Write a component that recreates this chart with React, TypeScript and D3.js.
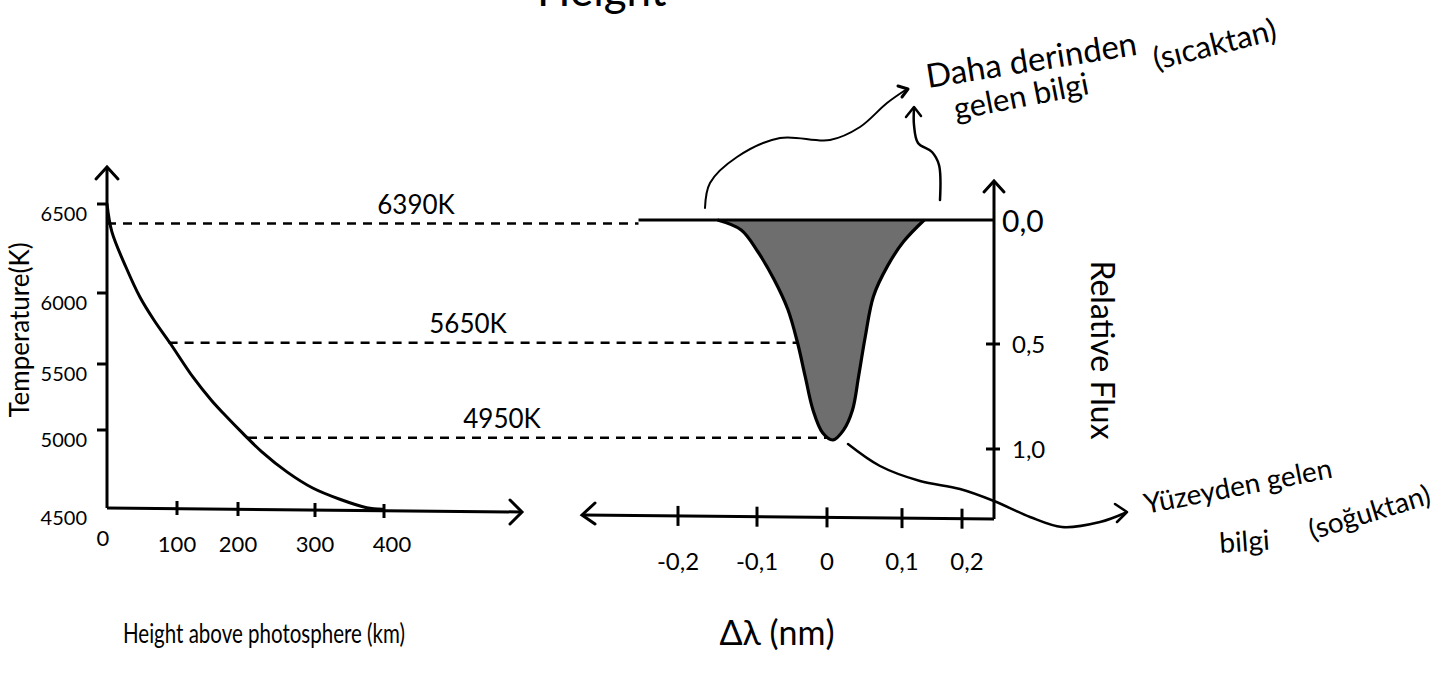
import React from "react";
import * as d3 from "d3";

// Temperature profile of the photosphere (left panel)
const heightKm = [0, 7, 27, 47, 67, 90, 126, 157, 179, 206, 231, 264, 297, 336, 375, 398];
const temperatureK = [6500, 6343, 6146, 5972, 5810, 5648, 5402, 5222, 5112, 4980, 4860, 4730, 4628, 4556, 4502, 4492];

const tempTicks = [4500, 5000, 5500, 6000, 6500];
const tempTickLabels = ["4500", "5000", "5500", "6000", "6500"];
const heightTicks = [0, 100, 200, 300, 400];
const heightTickLabels = ["0", "100", "200", "300", "400"];

// Absorption line profile (right panel)
const dlTicks = [-0.2, -0.1, 0, 0.1, 0.2];
const dlTickLabels = ["-0,2", "-0,1", "0", "0,1", "0,2"];
const fluxTicks = [0, 0.5, 1];
const fluxTickLabels = ["0,0", "0,5", "1,0"];
const profileDl = [-0.15, -0.12, -0.099, -0.076, -0.056, -0.042, -0.031, -0.02, -0.006, 0.008, 0.022, 0.034, 0.042, 0.051, 0.062, 0.081, 0.103, 0.137];
const profileFlux = [0, 0.04, 0.127, 0.238, 0.36, 0.496, 0.657, 0.814, 0.924, 0.957, 0.91, 0.814, 0.657, 0.471, 0.307, 0.184, 0.086, 0];
const continuumDl = [-0.25, 0.255];

// Temperature levels linking the two panels
const levelTemps = [6390, 5650, 4950];
const levelLabels = ["6390K", "5650K", "4950K"];
const levelStartKm = [0, 88, 213];
const levelEndDl = [-0.25, -0.042, 0.008];

const FONT = "Lato, 'Open Sans', sans-serif";

export default function App() {
  const W = 1451;
  const H = 677;

  // hand-spaced tick positions, so the scales are piecewise linear
  const xH = d3.scaleLinear().domain(heightTicks).range([107, 177, 238, 315, 384]);
  const yT = d3.scaleLinear().domain(tempTicks).range([508, 430, 364, 293, 204]);
  const xD = d3.scaleLinear().domain(dlTicks).range([678, 757, 827, 902, 962]);
  const yF = d3.scaleLinear().domain(fluxTicks).range([220, 344, 449]);

  const leftAxisX = xH(0);
  const leftAxisY = yT(4500);
  const rightAxisX = 994;
  const rightAxisBottom = 519;

  const tempLine = d3
    .line<number>()
    .x((_, i) => xH(heightKm[i]))
    .y((t) => yT(t))
    .curve(d3.curveCatmullRom.alpha(0.5))(temperatureK) as string;

  const profileIdx = profileDl.map((_, i) => i);
  const profileArea = d3
    .area<number>()
    .x((i) => xD(profileDl[i]))
    .y0(yF(0))
    .y1((i) => yF(profileFlux[i]))
    .curve(d3.curveCatmullRom.alpha(0.5))(profileIdx) as string;
  const profileLine = d3
    .line<number>()
    .x((i) => xD(profileDl[i]))
    .y((i) => yF(profileFlux[i]))
    .curve(d3.curveCatmullRom.alpha(0.5))(profileIdx) as string;

  const smooth = (pts: [number, number][]) =>
    d3.line().curve(d3.curveCatmullRom.alpha(0.5))(pts) as string;

  const deepArrow = smooth([
    [705, 208], [710, 183], [737, 157], [780, 138], [830, 140], [860, 127], [887, 103], [907, 89],
  ]);
  const deepArrow2 = smooth([
    [940, 200], [939, 165], [932, 152], [918, 143], [914, 125], [914, 108],
  ]);
  const surfaceArrow = smooth([
    [848, 444], [880, 466], [920, 481], [960, 489], [994, 501], [1030, 517], [1062, 527], [1100, 522], [1125, 513],
  ]);

  const stroke = "#000";

  return (
    <svg
      width={W}
      height={H}
      viewBox={`0 0 ${W} ${H}`}
      style={{ position: "absolute", left: 0, top: 0, background: "#fff" }}
      fontFamily={FONT}
    >
      <rect x={0} y={0} width={W} height={H} fill="#fff" />

      {/* title, running off the top edge */}
      <text x={537} y={6} fontSize={44} fill={stroke}>Height</text>

      {/* ---------- left panel: temperature vs height ---------- */}
      <line x1={leftAxisX} y1={leftAxisY} x2={leftAxisX} y2={167} stroke={stroke} strokeWidth={3} />
      <path d={`M${leftAxisX - 11},${179} L${leftAxisX},${167} L${leftAxisX + 11},${179}`} fill="none" stroke={stroke} strokeWidth={3} strokeLinecap="round" />
      <line x1={leftAxisX} y1={leftAxisY} x2={521} y2={leftAxisY + 4} stroke={stroke} strokeWidth={3} />
      <path d={`M${510},${leftAxisY - 8} L${522},${leftAxisY + 4} L${510},${leftAxisY + 16}`} fill="none" stroke={stroke} strokeWidth={3} strokeLinecap="round" />

      {tempTicks.map((t, i) => (
        <g key={`yt${i}`}>
          {i > 0 && <line x1={leftAxisX - 10} x2={leftAxisX} y1={yT(t)} y2={yT(t)} stroke={stroke} strokeWidth={3} />}
          <text x={87} y={yT(t) + 17} fontSize={20} textAnchor="end" fill={stroke}>{tempTickLabels[i]}</text>
        </g>
      ))}
      {heightTicks.map((h, i) => (
        <g key={`xt${i}`}>
          {i > 0 && <line x1={xH(h)} x2={xH(h)} y1={leftAxisY - 8 + i} y2={leftAxisY + 6 + i} stroke={stroke} strokeWidth={3} />}
          <text x={i === 0 ? xH(h) - 4 : xH(h) + (i === 4 ? 8 : 0)} y={i === 0 ? 546 : 552} fontSize={22} textAnchor="middle" fill={stroke}>{heightTickLabels[i]}</text>
        </g>
      ))}

      <text transform={`translate(29,${330}) rotate(-90)`} fontSize={26} textAnchor="middle" fill={stroke}>Temperature(K)</text>
      <text x={264} y={643} fontSize={27} textAnchor="middle" textLength={282} lengthAdjust="spacingAndGlyphs" fill={stroke}>Height above photosphere (km)</text>

      <path d={tempLine} fill="none" stroke={stroke} strokeWidth={3} strokeLinejoin="round" strokeLinecap="round" />

      {/* ---------- temperature levels carried across ---------- */}
      {levelTemps.map((t, i) => (
        <g key={`lv${i}`}>
          <line x1={xH(levelStartKm[i])} x2={xD(levelEndDl[i])} y1={yT(t)} y2={yT(t)} stroke={stroke} strokeWidth={2.5} strokeDasharray="9 7" />
          <text x={[416, 468, 502][i]} y={yT(t) - 10} fontSize={26} textAnchor="middle" fill={stroke}>{levelLabels[i]}</text>
        </g>
      ))}

      {/* ---------- right panel: line profile ---------- */}
      <path d={profileArea} fill="#6e6e6e" stroke="none" />
      <line x1={xD(continuumDl[0])} x2={xD(continuumDl[1])} y1={yF(0)} y2={yF(0)} stroke={stroke} strokeWidth={3} />
      <path d={profileLine} fill="none" stroke={stroke} strokeWidth={3.2} strokeLinejoin="round" />

      <line x1={rightAxisX} y1={rightAxisBottom} x2={rightAxisX} y2={181} stroke={stroke} strokeWidth={3} />
      <path d={`M${rightAxisX - 10},${192} L${rightAxisX},${181} L${rightAxisX + 10},${192}`} fill="none" stroke={stroke} strokeWidth={3} strokeLinecap="round" />
      <line x1={583} y1={rightAxisBottom - 4} x2={rightAxisX} y2={rightAxisBottom} stroke={stroke} strokeWidth={3} />
      <path d={`M${595},${rightAxisBottom - 16} L${582},${rightAxisBottom - 4} L${595},${rightAxisBottom + 5}`} fill="none" stroke={stroke} strokeWidth={3} strokeLinecap="round" />

      {fluxTicks.map((f, i) => (
        <g key={`ft${i}`}>
          {i > 0 && <line x1={rightAxisX - 8} x2={rightAxisX + 6} y1={yF(f)} y2={yF(f)} stroke={stroke} strokeWidth={3} />}
          <text x={i === 0 ? 1002 : 1012} y={yF(f) + (i === 0 ? 12 : 9)} fontSize={i === 0 ? 30 : 24} fill={stroke}>{fluxTickLabels[i]}</text>
        </g>
      ))}
      <text transform={`translate(1091,${350}) rotate(90)`} fontSize={32} textAnchor="middle" fill={stroke}>Relative Flux</text>

      {dlTicks.map((d, i) => {
        const ty = rightAxisBottom - 4 + ((xD(d) - 583) / (rightAxisX - 583)) * 4;
        return (
          <g key={`dt${i}`}>
            <line x1={xD(d)} x2={xD(d)} y1={ty - 10} y2={ty + 10} stroke={stroke} strokeWidth={3} />
            <text x={xD(d) + (i === 4 ? 5 : 0)} y={570} fontSize={24} textAnchor="middle" fill={stroke}>{dlTickLabels[i]}</text>
          </g>
        );
      })}
      <text x={777} y={645} fontSize={34} textAnchor="middle" fill={stroke}>Δλ (nm)</text>

      {/* ---------- annotations ---------- */}
      <path d={deepArrow} fill="none" stroke={stroke} strokeWidth={2} strokeLinecap="round" />
      <path d="M898,86 L908,89 L902,97" fill="none" stroke={stroke} strokeWidth={3} strokeLinecap="round" strokeLinejoin="round" />
      <path d={deepArrow2} fill="none" stroke={stroke} strokeWidth={2.5} strokeLinecap="round" />
      <path d="M906,117 L914,107 L921,116" fill="none" stroke={stroke} strokeWidth={2.5} strokeLinecap="round" strokeLinejoin="round" />

      <text transform="translate(928,88) rotate(-9)" fontSize={33} fill={stroke}>Daha derinden</text>
      <text transform="translate(956,120) rotate(-11)" fontSize={31} fill={stroke}>gelen bilgi</text>
      <text transform="translate(1156,70) rotate(-14)" fontSize={31} fill={stroke}>(sıcaktan)</text>

      <path d={surfaceArrow} fill="none" stroke={stroke} strokeWidth={2.5} strokeLinecap="round" />
      <path d="M1115,504 L1127,512 L1117,522" fill="none" stroke={stroke} strokeWidth={2.5} strokeLinecap="round" strokeLinejoin="round" />

      <text transform="translate(1146,514) rotate(-11)" fontSize={28} fill={stroke}>Yüzeyden gelen</text>
      <text transform="translate(1220,553) rotate(-4)" fontSize={28} fill={stroke}>bilgi</text>
      <text transform="translate(1312,540) rotate(-17)" fontSize={28} fill={stroke}>(soğuktan)</text>
    </svg>
  );
}
